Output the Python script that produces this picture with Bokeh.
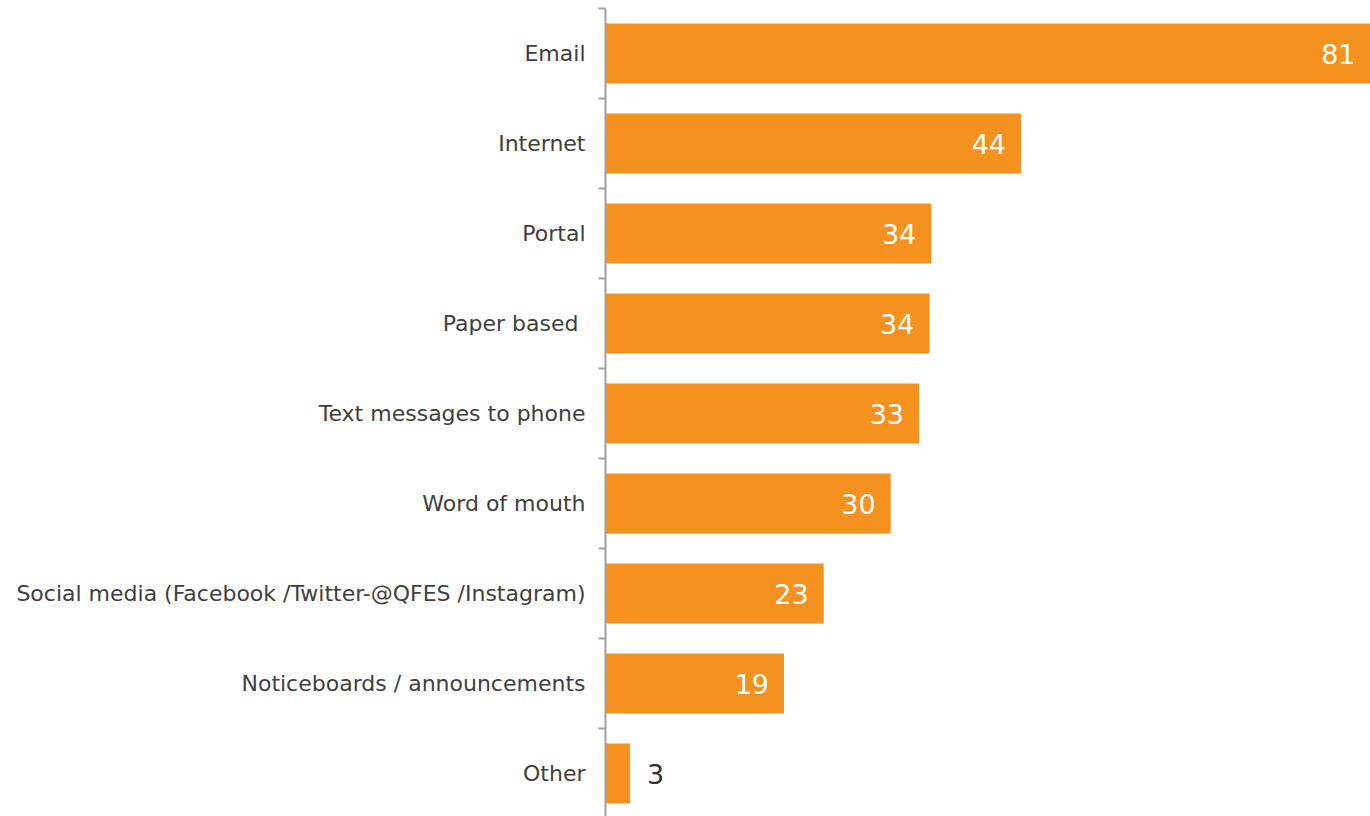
from bokeh.plotting import figure
from bokeh.models import ColumnDataSource, FixedTicker, Range1d, LabelSet
from bokeh.core.properties import value
from bokeh.embed import file_html
from bokeh.resources import INLINE

categories = ["Email", "Internet", "Portal", "Paper based ", "Text messages to phone",
              "Word of mouth", "Social media (Facebook /Twitter-@QFES /Instagram)",
              "Noticeboards / announcements", "Other"]
values = [81.0, 44.0, 34.5, 34.3, 33.2, 30.2, 23.1, 18.9, 2.6]
labels = ["81", "44", "34", "34", "33", "30", "23", "19", "3"]

n = len(categories)
ypos = [n - 0.5 - i for i in range(n)]
inside = [v > 10 for v in values]

src_in = ColumnDataSource(dict(
    y=[y for y, k in zip(ypos, inside) if k],
    v=[v for v, k in zip(values, inside) if k],
    t=[t for t, k in zip(labels, inside) if k]))
src_out = ColumnDataSource(dict(
    y=[y for y, k in zip(ypos, inside) if not k],
    v=[v for v, k in zip(values, inside) if not k],
    t=[t for t, k in zip(labels, inside) if not k]))
src = ColumnDataSource(dict(y=ypos, v=values))

W, H = 1370, 816
TOP, LEFT = 8, 605
p = figure(width=W, height=H, output_backend="svg", toolbar_location=None,
           x_range=Range1d(0, 81), y_range=Range1d(n - (H - TOP) / 90.0, n),
           min_border_left=LEFT, min_border_right=0, min_border_top=TOP, min_border_bottom=0)
p.outline_line_color = None
p.xgrid.visible = False
p.ygrid.visible = False
p.xaxis.visible = False

p.hbar(y="y", right="v", left=0, height=0.667, source=src,
       fill_color="#F5921F", line_color=None)

p.add_layout(LabelSet(x="v", y="y", text="t", source=src_in, x_offset=-15,
                      text_align="right", text_baseline="middle",
                      text_color="white", text_font=value("DejaVu Sans"), text_font_size="27px"))
p.add_layout(LabelSet(x="v", y="y", text="t", source=src_out, x_offset=17,
                      text_align="left", text_baseline="middle",
                      text_color="#333333", text_font=value("DejaVu Sans"), text_font_size="27px"))

ax = p.yaxis[0]
ax.ticker = FixedTicker(ticks=ypos, minor_ticks=list(range(n + 1)))
ax.major_label_overrides = {y: c for y, c in zip(ypos, categories)}
ax.major_tick_line_color = None
ax.minor_tick_out = 7
ax.minor_tick_in = 0
ax.minor_tick_line_color = "#a0a0a0"
ax.minor_tick_line_width = 2
ax.axis_line_color = "#a0a0a0"
ax.axis_line_width = 2
ax.major_label_standoff = 13
ax.major_label_text_font = "DejaVu Sans"
ax.major_label_text_font_size = "22px"
ax.major_label_text_color = "#404040"

open("out.html", "w").write(file_html(p, INLINE))
